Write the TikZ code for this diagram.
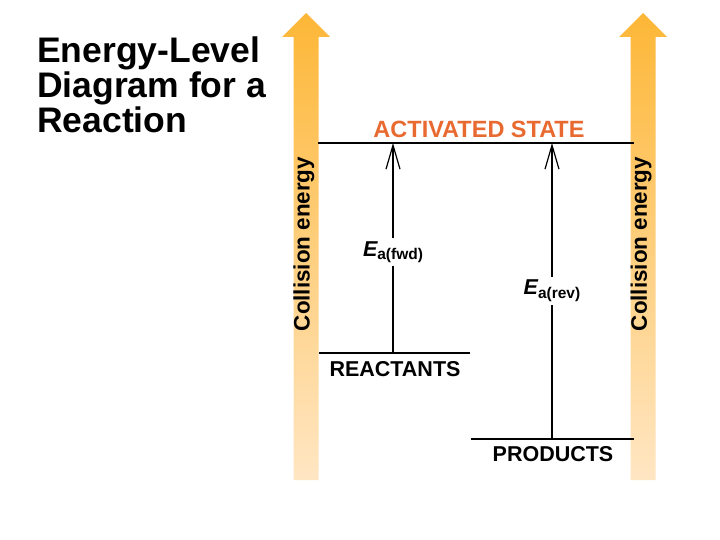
\documentclass[tikz,border=0pt]{standalone}
\usepackage{fontspec}
\setmainfont{Liberation Sans}
\usepackage{xcolor}
\usetikzlibrary{arrows.meta}
\definecolor{arrowtop}{RGB}{253,183,55}
\definecolor{arrowbot}{RGB}{255,230,195}
\definecolor{actorange}{RGB}{232,106,48}

\begin{document}
\begin{tikzpicture}[x=1pt, y=-1pt,
    level/.style={line width=2.8pt},
    ea arrow/.style={line width=1.2pt, -{Straight Barb[length=24pt, width=14pt, line width=1.2pt]}},
    level label/.style={font=\fontsize{21.5}{23}\selectfont\bfseries, inner sep=0pt},
    ea label/.style={fill=white, inner sep=3pt},
    collision/.style={font=\fontsize{22.4}{24}\selectfont\bfseries, rotate=90, inner sep=0pt}]
    \useasboundingbox (0,0) rectangle (720,540);

    % --- Title ---
    \node[anchor=north west, align=left, inner sep=0pt, font=\fontsize{35.5}{35}\selectfont\bfseries]
        (title) at (37,37) {Energy-Level\\Diagram for a\\Reaction};

    % --- Collision energy arrows ---
    \foreach \cx/\name in {306/left, 643/right} {
        \shade[top color=arrowtop, bottom color=arrowbot]
            (\cx-12.5,480) -- (\cx-12.5,37) -- (\cx-24,37) -- (\cx,13) -- (\cx+24,37)
            -- (\cx+12.5,37) -- (\cx+12.5,480) -- cycle;
        \node[collision] (coll \name) at (\cx-2,244) {Collision energy};
    }

    % --- Energy levels ---
    \coordinate (act w) at (318,143);
    \coordinate (act e) at (634,143);
    \coordinate (reac w) at (319,353);
    \coordinate (reac e) at (470,353);
    \coordinate (prod w) at (471,439);
    \coordinate (prod e) at (634,439);
    \draw[level] (act w) -- (act e);
    \draw[level] (reac w) -- (reac e);
    \draw[level] (prod w) -- (prod e);

    \node[level label, text=actorange, font=\fontsize{23.5}{25}\selectfont\bfseries] (act) at (479,129) {ACTIVATED STATE};
    \node[level label] (reac) at (395,369) {REACTANTS};
    \node[level label] (prod) at (553,454) {PRODUCTS};

    % --- Activation energies ---
    \coordinate (fwd foot) at (393,353);
    \coordinate (fwd top) at (393,143);
    \coordinate (rev foot) at (552,439);
    \coordinate (rev top) at (552,143);
    \draw[ea arrow] (fwd foot) -- node[ea label, pos=0.48] (ea fwd)
        {\fontsize{21.5}{23}\selectfont\bfseries\itshape E\raisebox{-0.35ex}{\fontsize{15.5}{17}\selectfont\upshape a(fwd)}} (fwd top);
    \draw[ea arrow] (rev foot) -- node[ea label, pos=0.5] (ea rev)
        {\fontsize{21.5}{23}\selectfont\bfseries\itshape E\raisebox{-0.35ex}{\fontsize{15.5}{17}\selectfont\upshape a(rev)}} (rev top);
\end{tikzpicture}
\end{document}
